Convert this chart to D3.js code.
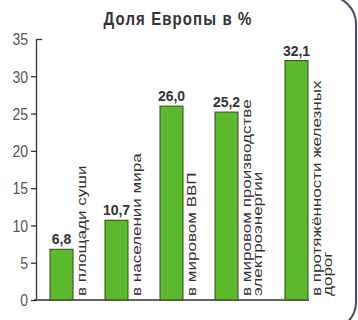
<!DOCTYPE html>
<html><head><meta charset="utf-8">
<script src="https://cdn.jsdelivr.net/npm/d3@7"></script>
<style>
html,body{margin:0;padding:0;background:#fff;}
svg{display:block;font-family:"Liberation Sans",Arial,sans-serif;}
</style></head>
<body>
<script>
const title = "Доля Европы в %";
const categories = ["площадь суши","население","ВВП","электроэнергия","железные дороги"];
const labelLines = [
  ["в площади суши"],
  ["в населении мира"],
  ["в мировом ВВП"],
  ["в мировом производстве","электроэнергии"],
  ["в протяжённости железных","дорог"]
];
const values = [6.8, 10.7, 26.0, 25.2, 32.1];
const valueLabels = ["6,8","10,7","26,0","25,2","32,1"];
const yTicks = [0,5,10,15,20,25,30,35];

const W = 358, H = 320;
const svg = d3.select("body").append("svg").attr("width", W).attr("height", H);

// frame
svg.append("rect").attr("x",-30).attr("y",-4).attr("width",386).attr("height",334)
  .attr("rx",28).attr("fill","#fff").attr("stroke","#4e4270").attr("stroke-width",2);

// title
svg.append("text").attr("transform","translate(178,25) scale(1,1.25)")
  .attr("text-anchor","middle")
  .attr("font-size",15).attr("font-weight","bold").attr("letter-spacing",1.1)
  .attr("fill","#333").text(title);

const y = d3.scaleLinear().domain([0,35]).range([300,39]);

// cumulative slot positions: slot width grows with number of label lines
const slots = labelLines.map(l => 8 + 3*l.length);
const starts = slots.map((s,i) => d3.sum(slots.slice(0,i)));
const total = d3.sum(slots);
const x = d3.scaleLinear().domain([0,total]).range([50,355]);
const bw = x(4.6) - x(0);

// axis
const axis = svg.append("g").attr("transform","translate(36,0)")
  .call(d3.axisLeft(y).tickValues(yTicks).tickSize(5).tickPadding(3).tickSizeOuter(0));
axis.select(".domain").attr("stroke","#333").attr("stroke-width",1.3);
axis.selectAll(".tick line").attr("stroke","#333").attr("stroke-width",1.3)
  .filter(d => d===35).attr("x2",6);
axis.selectAll(".tick text")
  .attr("font-size",14).attr("fill","#555")
  .attr("font-family","'Liberation Sans Narrow','Liberation Sans',Arial,sans-serif")
  .attr("dy","0.36em")
  .style("transform","scaleY(1.15)");

// baseline
svg.append("line").attr("x1",34).attr("x2",x(starts[4])+bw+1).attr("y1",y(0)).attr("y2",y(0))
  .attr("stroke","#333").attr("stroke-width",1.5);

const g = svg.append("g");
g.selectAll("rect.bar").data(values).join("rect").attr("class","bar")
  .attr("x",(d,i)=>x(starts[i])).attr("width",bw)
  .attr("y",d=>y(d)).attr("height",d=>y(0)-y(d))
  .attr("fill","#5cb82c").attr("stroke","#2e4a14").attr("stroke-width",1);

g.selectAll("text.val").data(values).join("text").attr("class","val")
  .attr("x",(d,i)=>x(starts[i])+bw/2).attr("y",d=>y(d)-5)
  .attr("text-anchor","middle").attr("font-size",14).attr("font-weight","bold")
  .attr("fill","#333").text((d,i)=>valueLabels[i]);

labelLines.forEach((lines,i)=>{
  lines.forEach((ln,j)=>{
    const tx = x(starts[i]) + bw + 13 + j*10.5;
    g.append("text")
      .attr("transform",`translate(${tx},296) scale(1,1.42) rotate(-90)`)
      .attr("font-size",12).attr("fill","#333").text(ln);
  });
});
</script>
</body></html>
